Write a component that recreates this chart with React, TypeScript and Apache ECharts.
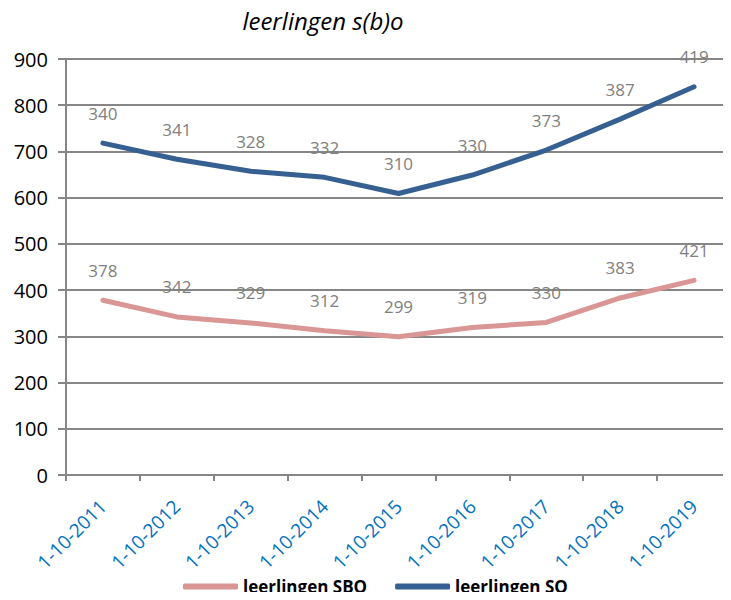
import React, { useEffect, useRef } from "react";
import * as echarts from "echarts";

const categories = ["1-10-2011", "1-10-2012", "1-10-2013", "1-10-2014", "1-10-2015", "1-10-2016", "1-10-2017", "1-10-2018", "1-10-2019"];
const sbo = [378, 342, 329, 312, 299, 319, 330, 383, 421];
const so = [340, 341, 328, 332, 310, 330, 373, 387, 419];
const yTicks = [0, 100, 200, 300, 400, 500, 600, 700, 800, 900];

const FONT = "'Open Sans', Lato, sans-serif";

export default function App() {
  const ref = useRef<HTMLDivElement>(null);
  useEffect(() => {
    const chart = echarts.init(ref.current!, undefined, { renderer: "svg" });
    const labelStyle = {
      show: true,
      position: "top" as const,
      distance: 21,
      color: "#808080",
      fontSize: 17,
      fontFamily: FONT,
    };
    chart.setOption({
      animation: false,
      title: {
        text: "leerlingen s(b)o",
        left: 318,
        top: 3,
        textAlign: "center",
        textStyle: { fontFamily: FONT, fontStyle: "italic", fontWeight: "normal", fontSize: 24, color: "#000" },
      },
      grid: { left: 66, top: 59, width: 671, height: 416, containLabel: false },
      legend: {
        bottom: 0,
        left: 178,
        itemWidth: 55,
        itemHeight: 6,
        itemGap: 28,
        icon: "roundRect",
        textStyle: { fontFamily: FONT, fontWeight: "bold", fontSize: 17, color: "#000" },
        data: ["leerlingen SBO", "leerlingen SO"],
      },
      xAxis: {
        type: "category",
        data: categories,
        boundaryGap: true,
        axisLine: { lineStyle: { color: "#868686", width: 2 } },
        axisTick: { show: true, length: 6, lineStyle: { color: "#868686", width: 2 } },
        axisLabel: { rotate: 45, color: "#0070C0", fontSize: 19, fontFamily: FONT, margin: 28 },
      },
      yAxis: {
        type: "value",
        min: 0,
        max: 900,
        interval: 100,
        axisLine: { show: true, lineStyle: { color: "#868686", width: 2 } },
        axisTick: { show: true, length: 8, lineStyle: { color: "#868686", width: 2 } },
        splitLine: { lineStyle: { color: "#868686", width: 2 } },
        axisLabel: {
          color: "#000",
          fontSize: 20,
          fontFamily: FONT,
          margin: 18,
          formatter: (v: number) => (yTicks.includes(v) ? String(v) : ""),
        },
      },
      series: [
        {
          name: "leerlingen SBO",
          type: "line",
          stack: "total",
          data: sbo,
          symbol: "circle",
          symbolSize: 1,
          showSymbol: true,
          lineStyle: { color: "#D99694", width: 5, cap: "round" },
          itemStyle: { color: "#D99694" },
          label: labelStyle,
        },
        {
          name: "leerlingen SO",
          type: "line",
          stack: "total",
          data: so,
          symbol: "circle",
          symbolSize: 1,
          showSymbol: true,
          lineStyle: { color: "#376092", width: 5, cap: "round" },
          itemStyle: { color: "#376092" },
          label: labelStyle,
        },
      ],
    });
    return () => chart.dispose();
  }, []);
  return <div ref={ref} style={{ width: 731, height: 600, margin: -8 }} />;
}
